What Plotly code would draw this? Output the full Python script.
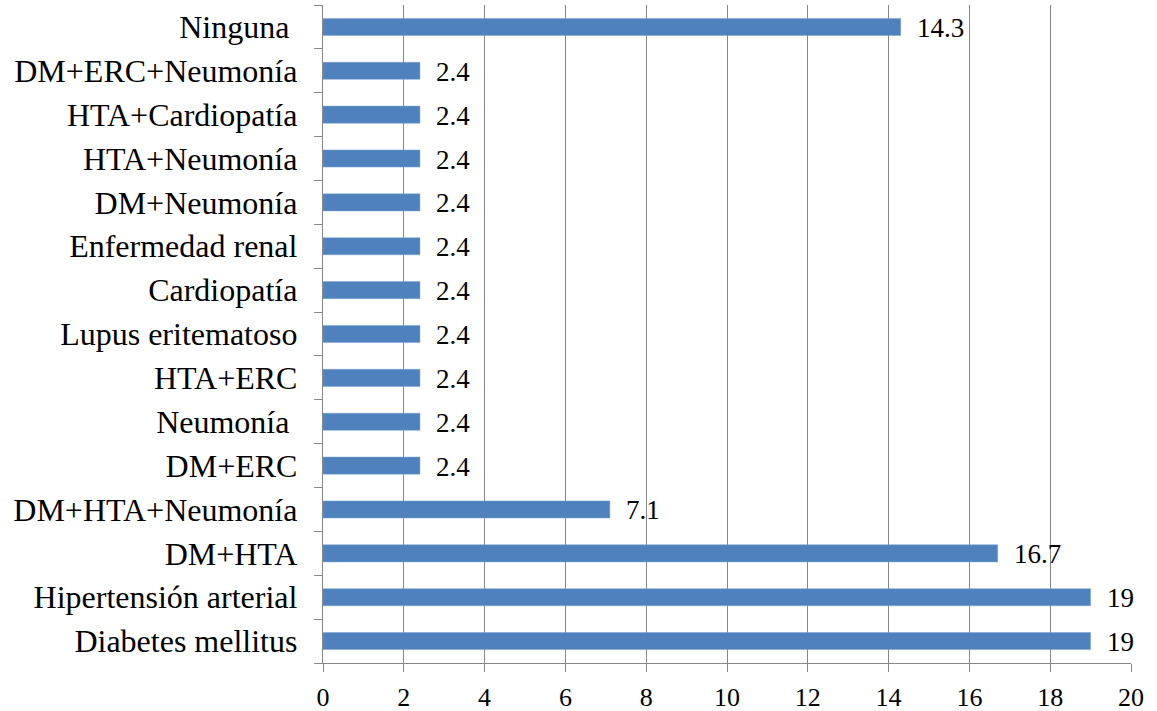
import plotly.graph_objects as go

categories = ["Diabetes mellitus", "Hipertensión arterial", "DM+HTA", "DM+HTA+Neumonía",
              "DM+ERC", "Neumonía\u00a0", "HTA+ERC", "Lupus eritematoso", "Cardiopatía",
              "Enfermedad renal", "DM+Neumonía", "HTA+Neumonía", "HTA+Cardiopatía",
              "DM+ERC+Neumonía", "Ninguna\u00a0"]
values = [19, 19, 16.7, 7.1, 2.4, 2.4, 2.4, 2.4, 2.4, 2.4, 2.4, 2.4, 2.4, 2.4, 14.3]
value_labels = ["19", "19", "16.7", "7.1", "2.4", "2.4", "2.4", "2.4", "2.4", "2.4",
                "2.4", "2.4", "2.4", "2.4", "14.3"]
x_ticks = [0, 2, 4, 6, 8, 10, 12, 14, 16, 18, 20]

pos = list(range(len(categories)))

fig = go.Figure()
fig.add_trace(go.Bar(
    x=values, y=pos, orientation="h", width=0.39,
    marker=dict(color="#4F81BD", line=dict(color="#7FA3D3", width=0.5)),
    hoverinfo="skip",
))

for p, v, t in zip(pos, values, value_labels):
    fig.add_annotation(x=v, y=p, text=t, showarrow=False, xanchor="left",
                       xshift=14, yshift=-1,
                       font=dict(family="Liberation Serif", size=27, color="#000000"))

grid = "#878787"
fig.update_layout(
    width=1157, height=711,
    margin=dict(l=323, r=26, t=5, b=48),
    plot_bgcolor="white", paper_bgcolor="white",
    showlegend=False,
    xaxis=dict(range=[0, 20], tickvals=x_ticks, ticktext=[str(v) for v in x_ticks],
               showgrid=True, gridcolor=grid, gridwidth=1.3,
               showline=True, linecolor=grid, linewidth=1.3,
               ticks="outside", ticklen=8, tickcolor=grid, tickwidth=1.3,
               ticklabelstandoff=3,
               tickfont=dict(family="Liberation Serif", size=26, color="#000000"),
               zeroline=False, fixedrange=True, automargin=False),
    yaxis=dict(range=[-0.5, 14.5], tickvals=pos, ticktext=categories,
               showgrid=False, showline=True, linecolor=grid, linewidth=1.3,
               ticks="", ticklabelstandoff=18,
               minor=dict(tickvals=[p - 0.5 for p in pos] + [14.5], ticks="outside",
                          ticklen=8, tickcolor=grid, tickwidth=1.3, showgrid=False),
               tickfont=dict(family="Liberation Serif", size=32, color="#000000"),
               zeroline=False, fixedrange=True, automargin=False),
)

fig.write_html("out.html", config={"displayModeBar": False})

with open("out.html", "r", encoding="utf-8") as f:
    html = f.read()
html = html.replace("<head>", "<head><style>html,body{margin:0;padding:0;overflow:hidden;}</style>", 1)
with open("out.html", "w", encoding="utf-8") as f:
    f.write(html)
